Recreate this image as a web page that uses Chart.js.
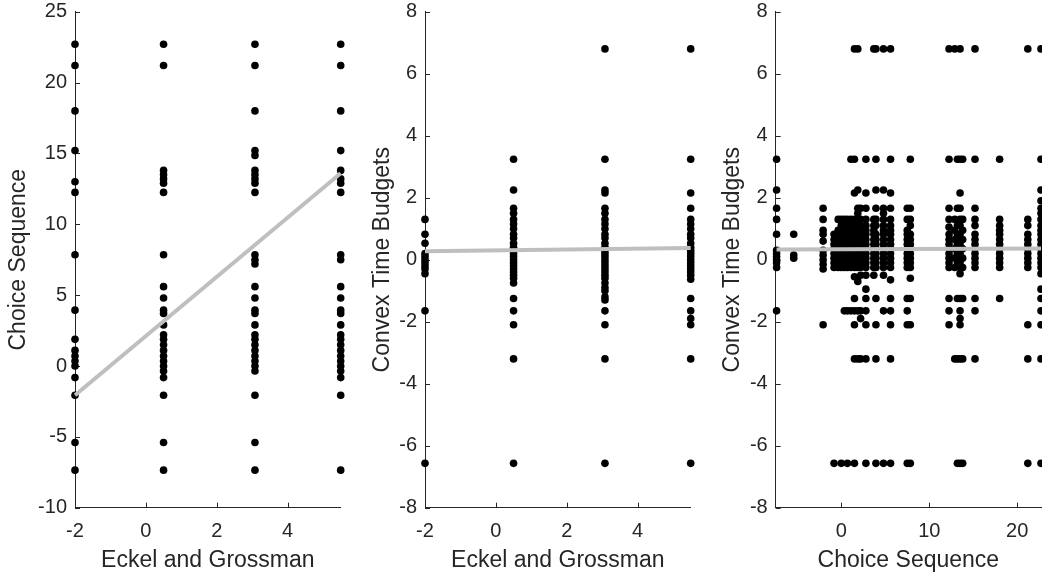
<!DOCTYPE html>
<html>
<head>
<meta charset="utf-8">
<script src="https://cdn.jsdelivr.net/npm/chart.js@4.4.1/dist/chart.umd.min.js"></script>
<style>
  body { margin: 0; background: #fff; }
  #wrap { position: relative; width: 1042px; height: 576px; overflow: hidden; }
  canvas { position: absolute; top: 0; }
</style>
</head>
<body>
<div id="wrap">
  <canvas id="c1" width="350" height="576" style="left:0px"></canvas>
  <canvas id="c2" width="350" height="576" style="left:350px"></canvas>
  <canvas id="c3" width="342" height="576" style="left:700px"></canvas>
</div>
<script>
// Eckel and Grossman levels (x of panels 1 and 2)
const egLevels = [-2, 0.5, 3.08, 5.5];

// Choice Sequence values in each Eckel and Grossman column (panel 1)
const csByEg = [
  [22.7, 21.2, 18, 15.2, 13.0, 12.25, 7.85, 3.94, 1.88, 1.1, 0.7, 0.35, 0, -0.82, -2.06, -5.4, -7.35],
  [22.7, 21.2, 13.8, 13.5, 13.2, 12.9, 12.25, 7.85, 5.6, 4.8, 3.94, 3.7, 2.9, 2.2, 1.88, 1.5, 1.1, 0.7, 0.35, 0, -0.35, -0.82, -2.06, -5.4, -7.35],
  [22.7, 21.2, 18, 15.2, 14.86, 13.8, 13.5, 13.2, 12.9, 12.25, 7.85, 7.5, 7.2, 5.6, 4.8, 3.94, 3.7, 2.9, 2.2, 1.88, 1.5, 1.1, 0.7, 0.35, 0, -0.35, -2.06, -5.4, -7.35],
  [22.7, 21.2, 18, 15.2, 13.8, 13.2, 12.9, 12.25, 7.85, 7.5, 5.6, 4.8, 3.94, 3.7, 2.9, 2.2, 1.88, 1.5, 1.1, 0.7, 0.35, 0, -0.35, -0.82, -2.06, -7.35]
];

// Convex Time Budgets values in each Eckel and Grossman column (panel 2)
const ctbByEg = [
  [1.3, 0.82, 0.53, 0.2, 0.1, 0, -0.1, -0.2, -0.3, -0.45, -1.65, -6.57],
  [3.24, 2.25, 1.66, 1.5, 1.3, 1.15, 1.0, 0.82, 0.7, 0.53, 0.4, 0.3, 0.2, 0.1, 0, -0.1, -0.2, -0.3, -0.4, -0.5, -0.6, -0.75, -1.25, -1.65, -2.1, -3.2, -6.57],
  [6.8, 3.24, 2.25, 2.15, 1.66, 1.5, 1.3, 1.15, 1.0, 0.82, 0.7, 0.53, 0.4, 0.3, 0.2, 0.1, 0, -0.1, -0.2, -0.3, -0.4, -0.5, -0.6, -0.75, -0.9, -1.0, -1.2, -1.3, -1.65, -2.1, -3.2, -6.57],
  [6.8, 3.24, 2.15, 1.66, 1.3, 1.15, 1.0, 0.82, 0.7, 0.53, 0.4, 0.3, 0.2, 0.1, 0, -0.1, -0.2, -0.3, -0.4, -0.5, -0.63, -1.25, -1.65, -1.9, -2.1, -3.2, -6.57]
];

// Choice Sequence levels (x of panel 3) and the Convex Time Budgets values seen in each
const csLevels = [-7.35, -5.4, -2.06, -0.82, -0.35, 0, 0.35, 0.7, 1.1, 1.5, 1.88, 2.2, 2.8, 3.7, 3.94, 4.8, 5.6, 7.5, 7.85, 12.25, 12.9, 13.2, 13.5, 13.8, 15.2, 18, 21.2, 22.7];
const ctbByCs = [
  [3.24, 2.25, 1.66, 1.3, 0.82, 0.3, 0.2, 0.1, 0, -0.1, -0.25, -1.65],
  [0.82, 0.15, 0.05],
  [1.66, 1.3, 0.95, 0.82, 0.6, 0.3, 0.15, 0, -0.15, -0.3, -2.1],
  [0.82, 0.65, 0.5, 0.35, 0.2, 0.05, -0.1, -0.25, -6.57],
  [1.3, 0.95, 0.82, 0.65, 0.5, 0.35, 0.2, 0.05, -0.1, -0.25],
  [1.3, 1.1, 0.82, 0.65, 0.5, 0.35, 0.2, 0.05, -0.1, -0.25, -6.57],
  [1.3, 1.1, 0.95, 0.82, 0.65, 0.5, 0.35, 0.2, 0.05, -0.1, -0.25, -1.65],
  [1.3, 1.1, 0.95, 0.82, 0.65, 0.5, 0.35, 0.2, 0.05, -0.1, -0.25, -1.65, -6.57],
  [3.24, 1.3, 1.1, 0.95, 0.82, 0.65, 0.5, 0.35, 0.2, 0.05, -0.1, -0.25, -1.65],
  [6.8, 3.24, 2.15, 1.3, 1.1, 0.95, 0.82, 0.65, 0.5, 0.35, 0.2, 0.05, -0.1, -0.25, -0.55, -1.25, -1.65, -2.1, -3.2, -6.57],
  [6.8, 2.25, 1.66, 1.5, 1.3, 1.1, 0.95, 0.82, 0.65, 0.5, 0.35, 0.2, 0.05, -0.1, -0.25, -0.7, -1.65, -3.2],
  [1.66, 1.3, 1.1, 0.95, 0.82, 0.65, 0.5, 0.35, 0.2, 0.05, -0.1, -0.25, -0.5, -1.65, -1.9, -3.2],
  [3.24, 2.15, 1.66, 1.3, 1.1, 0.95, 0.82, 0.65, 0.5, 0.35, 0.2, 0.05, -0.1, -0.25, -0.5, -0.95, -1.25, -1.65, -2.1, -3.2, -6.57],
  [6.8, 1.3, 1.1, 0.95, 0.82, 0.65, 0.5, 0.35, 0.2, 0.05, -0.1, -0.25, -0.5],
  [6.8, 3.24, 2.25, 1.66, 1.3, 1.1, 0.82, 0.65, 0.5, 0.35, 0.2, 0.05, -0.1, -0.25, -1.25, -2.1, -3.2, -6.57],
  [6.8, 2.25, 1.66, 1.5, 1.3, 1.1, 0.95, 0.82, 0.65, 0.5, 0.35, 0.2, 0.05, -0.1, -0.25, -0.5, -1.65, -6.57],
  [6.8, 3.24, 2.15, 1.66, 1.3, 1.1, 0.95, 0.82, 0.65, 0.5, 0.35, 0.2, 0.05, -0.1, -0.25, -0.65, -1.25, -1.65, -2.1, -3.2, -6.57],
  [1.66, 1.3, 0.95, 0.82, 0.65, 0.5, 0.35, 0.2, 0.05, -0.1, -0.25, -1.25, -1.65, -2.1, -6.57],
  [3.24, 1.66, 1.3, 1.1, 0.82, 0.65, 0.5, 0.35, 0.2, 0.05, -0.1, -0.25, -0.6, -1.25, -2.1, -6.57],
  [6.8, 3.24, 1.66, 1.3, 1.05, 0.82, 0.65, 0.5, 0.35, 0.2, 0.05, -0.1, -0.25, -1.25, -1.65, -2.1],
  [6.8, 1.3, 0.95, 0.65, 0.35, 0.05, -0.25, -3.2],
  [3.24, 1.66, 1.1, 0.82, 0.5, 0.2, -0.1, -1.25, -3.2, -6.57],
  [6.8, 3.24, 2.15, 1.66, 1.3, 1.1, 0.82, 0.65, 0.5, 0.35, 0.2, 0.05, -0.1, -0.25, -0.45, -1.25, -1.65, -1.9, -2.1, -3.2, -6.57],
  [3.24, 1.3, 0.95, 0.65, 0.35, 0.05, -0.25, -1.25, -3.2, -6.57],
  [6.8, 3.24, 1.66, 1.3, 1.1, 0.82, 0.65, 0.5, 0.35, 0.2, 0.05, -0.1, -0.25, -1.25, -1.65, -3.2],
  [3.24, 1.3, 1.1, 0.95, 0.82, 0.65, 0.5, 0.35, 0.2, 0.05, -0.1, -0.25, -1.25],
  [6.8, 1.3, 1.1, 0.82, 0.65, 0.5, 0.35, 0.2, 0.05, -0.1, -0.25, -2.1, -3.2, -6.57],
  [6.8, 3.24, 2.25, 1.9, 1.66, 1.5, 1.3, 1.1, 0.95, 0.82, 0.65, 0.5, 0.35, 0.2, 0.05, -0.1, -0.25, -0.45, -0.95, -1.25, -1.65, -2.1, -3.2, -6.57]
];

// fitted lines (end points)
const fit1X = [-2, 5.5], fit1Y = [-2.06, 13.6];
const fit2X = [-2, 5.5], fit2Y = [0.27, 0.38];
const fit3X = [-7.35, 22.7], fit3Y = [0.33, 0.36];

// tick labels
const egTicks = [-2, 0, 2, 4];
const csTicksY = [-10, -5, 0, 5, 10, 15, 20, 25];
const ctbTicks = [-8, -6, -4, -2, 0, 2, 4, 6, 8];
const csTicksX = [0, 10, 20];

const axisColor = "#262626";
const fontFamily = "'Liberation Sans', Arial, Helvetica, sans-serif";
const plotTop = 11.7;
const plotBottom = 507.7;

function columnsToPoints(xs, ysByX) {
  return xs.flatMap((x, i) => ysByX[i].map((y) => ({ x: x, y: y })));
}
function lineToPoints(xs, ys) {
  return xs.map((x, i) => ({ x: x, y: ys[i] }));
}

// ticks pointing into the plot, like the original
const inwardTicks = {
  id: "inwardTicks",
  beforeDatasetsDraw(chart) {
    const { ctx, chartArea, scales } = chart;
    ctx.save();
    ctx.strokeStyle = axisColor;
    ctx.lineWidth = 1;
    ctx.beginPath();
    scales.x.ticks.forEach((t) => {
      const px = Math.round(scales.x.getPixelForValue(t.value)) + 0.5;
      ctx.moveTo(px, chartArea.bottom);
      ctx.lineTo(px, chartArea.bottom - 5);
    });
    scales.y.ticks.forEach((t) => {
      const py = Math.round(scales.y.getPixelForValue(t.value)) + 0.5;
      ctx.moveTo(chartArea.left, py);
      ctx.lineTo(chartArea.left + 5, py);
    });
    ctx.stroke();
    ctx.restore();
  },
};

function makePanel(id, cfg) {
  const canvas = document.getElementById(id);
  const chart = new Chart(canvas.getContext("2d"), {
    type: "scatter",
    data: {
      datasets: [
        {
          type: "line",
          data: cfg.fit,
          borderColor: "#bfbfbf",
          borderWidth: 4,
          pointRadius: 0,
          fill: false,
          clip: false,
        },
        {
          data: cfg.points,
          pointRadius: 3.8,
          pointHoverRadius: 3.8,
          pointBackgroundColor: "#000",
          pointBorderWidth: 0,
          clip: false,
        },
      ],
    },
    options: {
      responsive: false,
      animation: false,
      devicePixelRatio: 1,
      layout: { autoPadding: false, padding: { left: 0, right: cfg.padRight, top: plotTop, bottom: 0 } },
      plugins: { legend: { display: false }, tooltip: { enabled: false } },
      scales: {
        x: {
          type: "linear",
          min: cfg.xMin,
          max: cfg.xMax,
          afterBuildTicks: (s) => { s.ticks = cfg.xTicks.map((v) => ({ value: v })); },
          afterFit: (s) => { s.height = canvas.height - plotBottom; s.paddingLeft = 0; s.paddingRight = 0; },
          grid: { display: false, drawTicks: false },
          border: { display: true, color: axisColor, width: 1 },
          ticks: { color: axisColor, font: { family: fontFamily, size: 20 }, padding: 12, maxRotation: 0 },
          title: { display: true, text: cfg.xTitle, color: axisColor, font: { family: fontFamily, size: 23 }, padding: { top: 0, bottom: 2 } },
        },
        y: {
          type: "linear",
          min: cfg.yMin,
          max: cfg.yMax,
          afterBuildTicks: (s) => { s.ticks = cfg.yTicks.map((v) => ({ value: v })); },
          afterFit: (s) => { s.width = cfg.yWidth; s.paddingTop = 0; s.paddingBottom = 0; },
          grid: { display: false, drawTicks: false },
          border: { display: true, color: axisColor, width: 1 },
          ticks: { color: axisColor, font: { family: fontFamily, size: 20 }, padding: 8 },
          title: { display: true, text: cfg.yTitle, color: axisColor, font: { family: fontFamily, size: 23 }, padding: { top: cfg.yTitlePad, bottom: 0 } },
        },
      },
    },
    plugins: [inwardTicks],
  });

  // nudge the layout padding until the plot box sits where the original has it
  for (let i = 0; i < 3; i++) {
    const a = chart.chartArea;
    const p = chart.options.layout.padding;
    const dTop = plotTop - a.top;
    const dRight = cfg.plotRight - a.right;
    if (Math.abs(dTop) < 0.1 && Math.abs(dRight) < 0.1) break;
    p.top += dTop;
    p.right -= dRight;
    chart.update();
  }
}

makePanel("c1", {
  points: columnsToPoints(egLevels, csByEg),
  fit: lineToPoints(fit1X, fit1Y),
  xMin: -2, xMax: 5.5, xTicks: egTicks,
  yMin: -10, yMax: 25, yTicks: csTicksY,
  xTitle: "Eckel and Grossman", yTitle: "Choice Sequence",
  yWidth: 75, padRight: 9.3, plotRight: 340.7, yTitlePad: 5,
});

makePanel("c2", {
  points: columnsToPoints(egLevels, ctbByEg),
  fit: lineToPoints(fit2X, fit2Y),
  xMin: -2, xMax: 5.5, xTicks: egTicks,
  yMin: -8, yMax: 8, yTicks: ctbTicks,
  xTitle: "Eckel and Grossman", yTitle: "Convex Time Budgets",
  yWidth: 75, padRight: 9.3, plotRight: 340.7, yTitlePad: 18.5,
});

makePanel("c3", {
  points: columnsToPoints(csLevels, ctbByCs),
  fit: lineToPoints(fit3X, fit3Y),
  xMin: -7.45, xMax: 22.7, xTicks: csTicksX,
  yMin: -8, yMax: 8, yTicks: ctbTicks,
  xTitle: "Choice Sequence", yTitle: "Convex Time Budgets",
  yWidth: 75.7, padRight: 1, plotRight: 341, yTitlePad: 19,
});
</script>
</body>
</html>
